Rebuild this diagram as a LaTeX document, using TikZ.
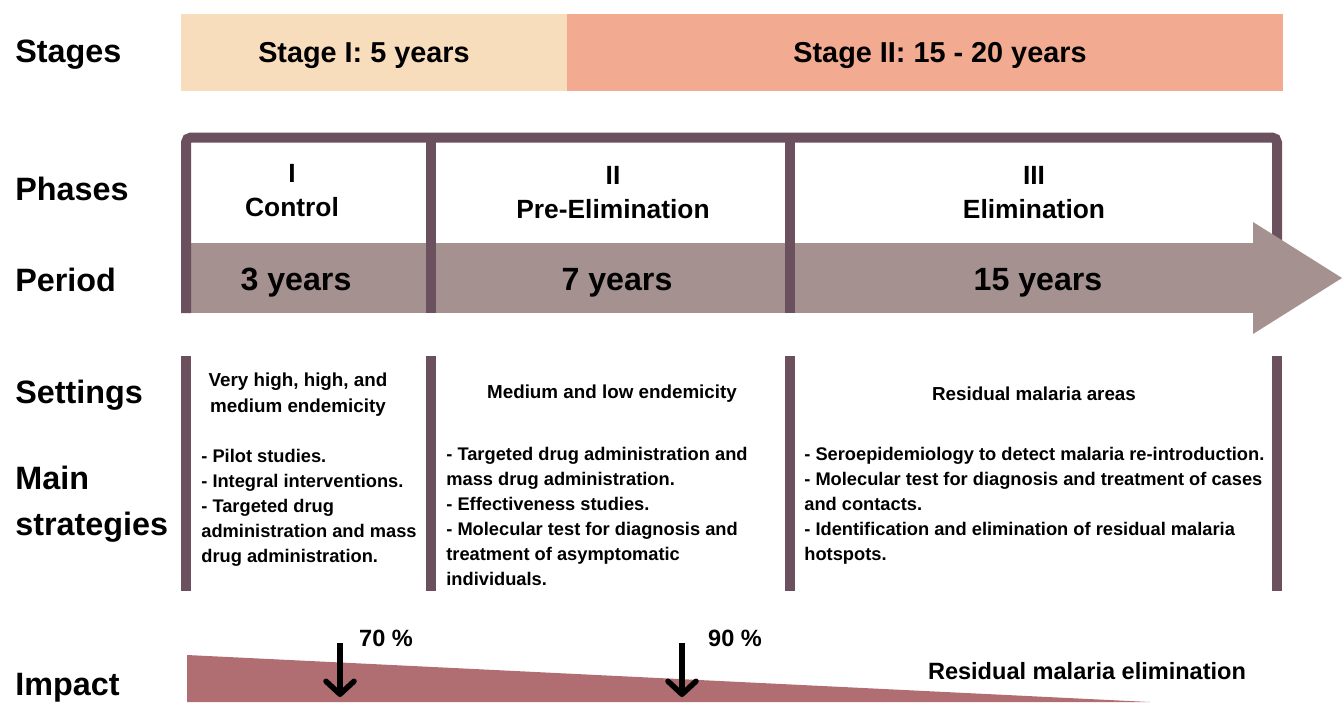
\documentclass[tikz,border=0pt]{standalone}
\usepackage{fontspec}
\setmainfont{Liberation Sans}
\usetikzlibrary{positioning}
\usetikzlibrary{arrows.meta}

\definecolor{stageone}{HTML}{F8DDBD}
\definecolor{stagetwo}{HTML}{F2AB91}
\definecolor{framecol}{HTML}{6B515E}
\definecolor{bandcol}{HTML}{A69191}
\definecolor{impactcol}{HTML}{B06E72}

\begin{document}
\begin{tikzpicture}[x=0.2mm,y=-0.2mm,
    rowlabel/.style={anchor=west,align=left,inner sep=0pt,font=\fontsize{18.4}{26}\selectfont\bfseries},
    stagetext/.style={font=\fontsize{16.4}{20}\selectfont\bfseries},
    phasetext/.style={align=center,font=\fontsize{15}{19.3}\selectfont\bfseries},
    periodtext/.style={font=\fontsize{18.3}{22}\selectfont\bfseries},
    settingtext/.style={align=center,font=\fontsize{10.7}{14.8}\selectfont\bfseries},
    listtext/.style={anchor=north west,align=left,inner sep=0pt,font=\fontsize{10.4}{14.2}\selectfont\bfseries},
    frameline/.style={draw=framecol,line width=2mm},
    pctarrow/.style={line width=1.1mm,-{Straight Barb[length=2.6mm,width=5.6mm,line cap=round,line join=round]}},
    impacttext/.style={font=\fontsize{13.4}{16}\selectfont\bfseries}]
    \useasboundingbox (0,0) rectangle (1342,702);

    % stages
    \fill[stageone] (181,14) rectangle (567,91);
    \fill[stagetwo] (567,14) rectangle (1283,91);
    \node[stagetext] (stage1) at (364,55) {Stage I: 5 years};
    \node[stagetext] (stage2) at (940,55) {Stage II: 15 - 20 years};

    % row labels
    \node[rowlabel] (lstages) at (15,55) {Stages};
    \node[rowlabel] (lphases) at (15,189) {Phases};
    \node[rowlabel] (lperiod) at (15,280) {Period};
    \node[rowlabel] (lsettings) at (15,395) {Settings};
    \node[rowlabel] (lmain) at (15,504) {Main\\strategies};
    \node[rowlabel] (limpact) at (15,688) {Impact};

    % period band and frame
    \fill[bandcol] (181,243) rectangle (1254,313);
    \draw[frameline,rounded corners=1mm] (186,313) -- (186,137.5) -- (1277,137.5) -- (1277,243);
    \draw[frameline] (431,137.5) -- (431,313);
    \draw[frameline] (790,137.5) -- (790,313);
    \fill[bandcol] (1253,222) -- (1342,278) -- (1253,334) -- cycle;

    \node[phasetext] (ph1) at (292,191) {I\\Control};
    \node[phasetext] (ph2) at (613,193) {II\\Pre-Elimination};
    \node[phasetext] (ph3) at (1034,193) {III\\Elimination};
    \node[periodtext] (per1) at (296,283) {3 years};
    \node[periodtext] (per2) at (617,283) {7 years};
    \node[periodtext] (per3) at (1038,283) {15 years};

    % settings and strategies
    \foreach \xpos in {186,431,790,1277}
        \draw[frameline] (\xpos,356) -- (\xpos,591);
    \node[settingtext] (set1) at (298,395) {Very high, high, and\\medium endemicity};
    \node[settingtext] (set2) at (612,394) {Medium and low endemicity};
    \node[settingtext] (set3) at (1034,394) {Residual malaria areas};

    \node[listtext] (str1) at (201,449) {- Pilot studies.\\- Integral interventions.\\- Targeted drug\\administration and mass\\drug administration.};
    \node[listtext] (str2) at (446,447) {- Targeted drug administration and\\mass drug administration.\\- Effectiveness studies.\\- Molecular test for diagnosis and\\treatment of asymptomatic\\individuals.};
    \node[listtext] (str3) at (804,447) {- Seroepidemiology to detect malaria re-introduction.\\- Molecular test for diagnosis and treatment of cases\\and contacts.\\- Identification and elimination of residual malaria\\hotspots.};

    % impact
    \fill[impactcol] (187,655) -- (1150,702) -- (187,702) -- cycle;
    \coordinate (a70top) at (340,643);
    \coordinate (a70end) at (340,697);
    \coordinate (a90top) at (682,643);
    \coordinate (a90end) at (682,697);
    \draw[pctarrow] (a70top) -- (a70end);
    \draw[pctarrow] (a90top) -- (a90end);
    \node[impacttext] (p70) at (386,638) {70 \%};
    \node[impacttext] (p90) at (735,638) {90 \%};
    \node[impacttext] (resid) at (1087,671) {Residual malaria elimination};
\end{tikzpicture}
\end{document}
